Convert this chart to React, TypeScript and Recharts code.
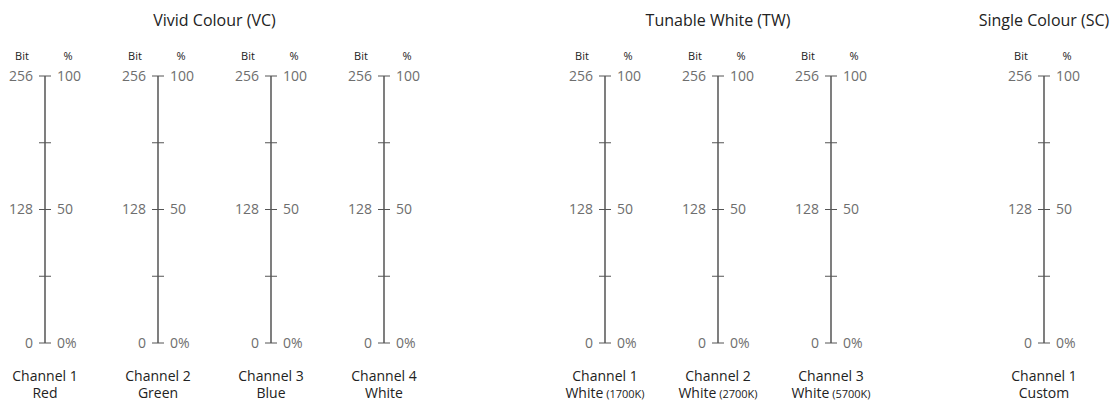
import { ComposedChart, Line, XAxis, YAxis } from "recharts";

const FONT = '"Open Sans", "Noto Sans", sans-serif';

// group titles
const groupTitles = ["Vivid Colour (VC)", "Tunable White (TW)", "Single Colour (SC)"];

// channels per group
const vcChannels = ["Channel 1", "Channel 2", "Channel 3", "Channel 4"];
const vcColours = ["Red", "Green", "Blue", "White"];
const twChannels = ["Channel 1", "Channel 2", "Channel 3"];
const twColours = ["White", "White", "White"];
const twKelvin = ["(1700K)", "(2700K)", "(5700K)"];
const scChannels = ["Channel 1"];
const scColours = ["Custom"];

// scale ranges and ticks
const bitMax = 256;
const pctMax = 100;
const bitTicks = [0, 64, 128, 192, 256];
const bitLabels = ["0", "", "128", "", "256"];
const pctTicks = [0, 25, 50, 75, 100];
const pctLabels = ["0%", "", "50", "", "100"];

// layout
const GROUP_X = [45, 605, 1044];
const STEP = 113;
const LEFT_W = 55;
const RIGHT_W = 56;
const CHART_W = LEFT_W + RIGHT_W;
const CHART_TOP = 60;
const CHART_H = 341;

type Channel = { name: string; colour: string; note?: string };

const groups: Channel[][] = [
  vcChannels.map((name, i) => ({ name, colour: vcColours[i] })),
  twChannels.map((name, i) => ({ name, colour: twColours[i], note: twKelvin[i] })),
  scChannels.map((name, i) => ({ name, colour: scColours[i] })),
];

const headStyle: React.CSSProperties = {
  position: "absolute",
  top: -11,
  width: 40,
  textAlign: "center",
  fontSize: 11,
  color: "#222",
  fontFamily: FONT,
  lineHeight: "14px",
};

function Scale({ ch, x }: { ch: Channel; x: number }) {
  const data = [{ ch: ch.name, bit: bitMax, pct: pctMax }];
  return (
    <div style={{ position: "absolute", left: x - LEFT_W, top: CHART_TOP }}>
      <div style={{ ...headStyle, left: LEFT_W - 23 - 20 }}>Bit</div>
      <div style={{ ...headStyle, left: LEFT_W + 23 - 20 }}>%</div>
      <ComposedChart
        width={CHART_W}
        height={CHART_H}
        data={data}
        margin={{ top: 16, right: 0, bottom: 0, left: 0 }}
        style={{ overflow: "visible" }}
      >
        <XAxis dataKey="ch" axisLine={false} tickLine={false} tick={false} height={58} />
        <YAxis
          yAxisId="bit"
          orientation="left"
          type="number"
          domain={[0, bitMax]}
          allowDataOverflow
          ticks={bitTicks}
          width={LEFT_W}
          tickSize={6}
          tickMargin={6}
          interval={0}
          tickFormatter={(v: number) => bitLabels[bitTicks.indexOf(v)]}
          axisLine={{ stroke: "#3a3a3a", strokeWidth: 1.3 }}
          tickLine={{ stroke: "#555" }}
          tick={{ fill: "#6e6e6e", fontSize: 14, fontFamily: FONT }}
        />
        <YAxis
          yAxisId="pct"
          orientation="right"
          type="number"
          domain={[0, pctMax]}
          allowDataOverflow
          ticks={pctTicks}
          width={RIGHT_W}
          tickSize={6}
          tickMargin={6}
          interval={0}
          tickFormatter={(v: number) => pctLabels[pctTicks.indexOf(v)]}
          axisLine={false}
          tickLine={{ stroke: "#555" }}
          tick={{ fill: "#6e6e6e", fontSize: 14, fontFamily: FONT }}
        />
        <Line yAxisId="bit" dataKey="bit" stroke="none" dot={false} activeDot={false} isAnimationActive={false} />
        <Line yAxisId="pct" dataKey="pct" stroke="none" dot={false} activeDot={false} isAnimationActive={false} />
      </ComposedChart>
      <div
        style={{
          position: "absolute",
          left: LEFT_W - 60,
          top: 307,
          width: 120,
          textAlign: "center",
          fontSize: 14,
          lineHeight: "17px",
          color: "#222",
          fontFamily: FONT,
          whiteSpace: "nowrap",
        }}
      >
        <div>{ch.name}</div>
        <div>
          {ch.colour}
          {ch.note && <span style={{ fontSize: 11 }}> {ch.note}</span>}
        </div>
      </div>
    </div>
  );
}

export default function App() {
  return (
    <div
      style={{
        position: "absolute",
        left: 0,
        top: 0,
        width: 1112,
        height: 401,
        background: "#fff",
        overflow: "hidden",
        fontFamily: FONT,
      }}
    >
      {groups.map((chs, g) => {
        const first = GROUP_X[g];
        const last = first + (chs.length - 1) * STEP;
        return (
          <div key={g}>
            <div
              style={{
                position: "absolute",
                left: (first + last) / 2 - 150,
                top: 10,
                width: 300,
                textAlign: "center",
                fontSize: 16,
                lineHeight: "20px",
                color: "#222",
              }}
            >
              {groupTitles[g]}
            </div>
            {chs.map((ch, i) => (
              <Scale key={i} ch={ch} x={first + i * STEP} />
            ))}
          </div>
        );
      })}
    </div>
  );
}
